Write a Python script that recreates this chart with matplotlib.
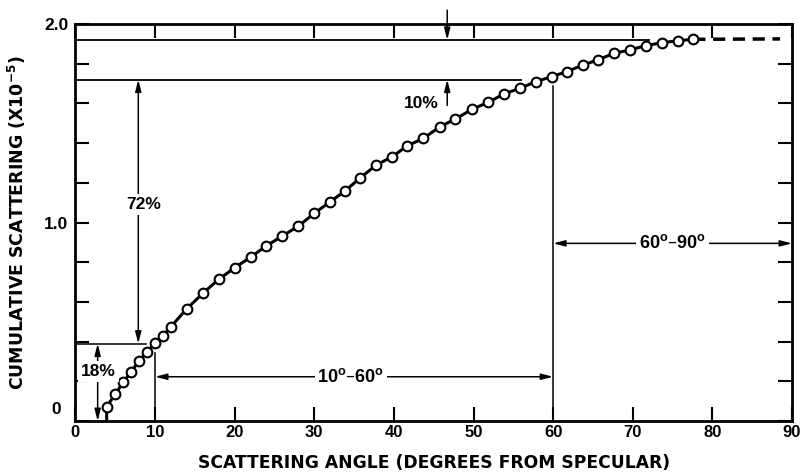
import matplotlib
matplotlib.use("Agg")
import matplotlib.pyplot as plt
from matplotlib.ticker import MultipleLocator, FixedLocator

plt.rcParams['font.family'] = ['Liberation Sans', 'DejaVu Sans']
plt.rcParams['font.weight'] = 'bold'

# ---- data ----
angle = [3.93, 4.98, 6.0, 7.0, 8.0, 9.0, 10.0, 11.0, 12.0, 14.0, 16.0, 18.0, 20.0,
         22.0, 24.0, 26.0, 28.0, 30.0, 32.0, 33.9, 35.8, 37.8, 39.8, 41.7, 43.7,
         45.8, 47.7, 49.8, 51.8, 53.8, 55.8, 57.8, 59.8, 61.7, 63.7, 65.6, 67.6,
         69.6, 71.6, 73.7, 75.7, 77.6]
cumulative = [0.072, 0.134, 0.195, 0.248, 0.302, 0.349, 0.391, 0.430, 0.475, 0.566,
              0.643, 0.714, 0.772, 0.825, 0.883, 0.932, 0.982, 1.046, 1.105, 1.160,
              1.226, 1.290, 1.332, 1.387, 1.424, 1.483, 1.521, 1.570, 1.605, 1.647,
              1.676, 1.709, 1.735, 1.760, 1.793, 1.819, 1.852, 1.869, 1.891, 1.906,
              1.916, 1.923]
start_angle = 3.93
extrap_angle = [77.6, 88.5]
extrap_value = [1.923, 1.925]

level_total = 1.92
level_60 = 1.72
level_10 = 0.39
x_ticks = [0, 10, 20, 30, 40, 50, 60, 70, 80, 90]
y_major = [0, 1.0, 2.0]
y_labels = ['', '1.0', '2.0']

fig = plt.figure(figsize=(8.01, 4.73), dpi=100)
ax = fig.add_axes([0.0941, 0.1099, 0.8947, 0.8393])
ax.set_xlim(0, 90)
ax.set_ylim(0, 2.0)

for s in ax.spines.values():
    s.set_linewidth(2.0)

ax.xaxis.set_major_locator(FixedLocator(x_ticks))
ax.yaxis.set_major_locator(FixedLocator(y_major))
ax.yaxis.set_minor_locator(MultipleLocator(0.2))
ax.set_yticklabels(y_labels)
ax.tick_params(which='both', direction='in', length=10, width=1.5,
               top=True, right=True)
ax.tick_params(axis='x', pad=3, labelsize=12)
ax.tick_params(axis='y', pad=5, labelsize=12.5)
ax.text(-0.02, 0.01, '0', transform=ax.transAxes, ha='right', va='bottom',
        fontsize=12.5, fontweight='bold')

lw_thin = 1.1
# reference lines
ax.plot([0, 72], [level_total, level_total], color='black', lw=1.3)
ax.plot([0, 56], [level_60, level_60], color='black', lw=1.3)
ax.plot([0, 8.9], [level_10, level_10], color='black', lw=lw_thin)
ax.plot([10, 10], [0, 0.345], color='black', lw=lw_thin)
ax.plot([60, 60], [0, 1.69], color='black', lw=lw_thin)

# curve
ax.plot([start_angle] + angle, [0] + cumulative, color='black', lw=2.2, zorder=3)
ax.plot(angle, cumulative, 'o', mfc='white', mec='black', ms=7, mew=1.5, zorder=4)
ax.plot(extrap_angle, extrap_value, color='black', lw=2.5, dashes=(3.5, 2.2), zorder=3)

ap = dict(arrowstyle='-|>,head_length=0.7,head_width=0.18', color='black',
          lw=lw_thin, shrinkA=0, shrinkB=0)

def arrow(x0, y0, x1, y1):
    ax.annotate('', xy=(x1, y1), xytext=(x0, y0), arrowprops=ap, annotation_clip=False)

def label(x, y, s, fs=12.5):
    ax.text(x, y, s, ha='center', va='center', fontsize=fs, fontweight='bold',
            bbox=dict(facecolor='white', edgecolor='none', pad=2), zorder=5)

# 72%
arrow(7.9, 1.09, 7.9, level_60)
arrow(7.9, 1.09, 7.9, level_10)
label(8.6, 1.09, '72%')
# 18%
arrow(2.8, 0.25, 2.8, level_10)
arrow(2.8, 0.25, 2.8, 0.0)
label(2.9, 0.25, '18%')
# 10%
arrow(46.7, 2.07, 46.7, level_total)
arrow(46.7, 1.59, 46.7, level_60)
ax.text(43.4, 1.60, '10%', ha='center', va='center', fontsize=12.5, fontweight='bold')
# 10-60
arrow(34.6, 0.223, 10, 0.223)
arrow(34.6, 0.223, 60, 0.223)
label(34.6, 0.223, r'10$^{\mathregular{o}}$–60$^{\mathregular{o}}$', fs=13)
# 60-90
arrow(75, 0.895, 60, 0.895)
arrow(75, 0.895, 90, 0.895)
label(75, 0.895, r'60$^{\mathregular{o}}$–90$^{\mathregular{o}}$', fs=13)

ax.set_xlabel('SCATTERING ANGLE (DEGREES FROM SPECULAR)', fontsize=12.3,
              fontweight='bold', labelpad=10, family='DejaVu Sans')
ax.set_ylabel(r'CUMULATIVE SCATTERING (X10$^{\mathregular{-5}}$)', fontsize=12.5,
              fontweight='bold', labelpad=12, family='DejaVu Sans')

fig.savefig('out.png', dpi=100)
